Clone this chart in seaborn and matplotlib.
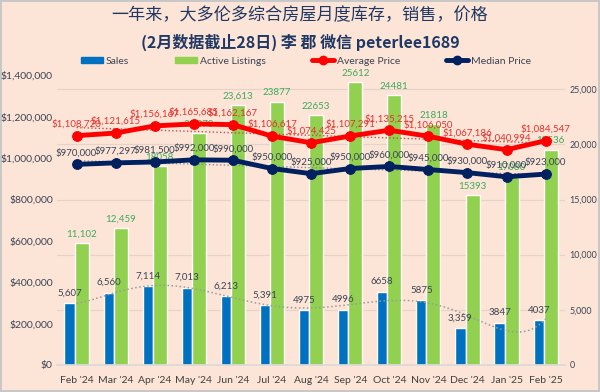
import numpy as np
import seaborn as sns
import matplotlib.pyplot as plt
from matplotlib.patches import Patch
from matplotlib.lines import Line2D

# data
months = ["Feb '24", "Mar '24", "Apr '24", "May '24", "Jun '24", "Jul '24", "Aug '24",
          "Sep '24", "Oct '24", "Nov '24", "Dec '24", "Jan '25", "Feb '25"]
sales = [5607, 6560, 7114, 7013, 6213, 5391, 4975, 4996, 6658, 5875, 3359, 3847, 4037]
active = [11102, 12459, 18058, 21070, 23613, 23877, 22653, 25612, 24481, 21818, 15393, 17080, 19536]
avg_price = [1108720, 1121615, 1156167, 1165685, 1162167, 1106617, 1074425,
             1107291, 1135215, 1106050, 1067186, 1040994, 1084547]
median_price = [970000, 977297, 981500, 992000, 990000, 950000, 925000,
                950000, 960000, 945000, 930000, 910000, 923000]
sales_labels = ['5,607', '6,560', '7,114', '7,013', '6,213', '5,391', '4975', '4996',
                '6658', '5875', '3,359', '3847', '4037']
active_labels = ['11,102', '12,459', '18058', '21,070', '23,613', '23877', '22653',
                 '25612', '24481', '21818', '15393', '17080', '19536']

title1 = "一年来，大多伦多综合房屋月度库存，销售，价格"
title2 = "(2月数据截止28日) 李 郡 微信 peterlee1689"

BG = '#FCE4D6'
BLUE = '#0070C0'
GREEN = '#92D050'
RED = '#FF0000'
NAVY = '#002060'
TXT = '#3B4456'

sns.set_theme(style="white")
plt.rcParams['font.family'] = ['Lato', 'Noto Sans CJK SC', 'DejaVu Sans']

x = np.arange(len(months))

fig = plt.figure(figsize=(6, 3.92), dpi=100, facecolor=BG)
fig.patch.set_edgecolor('#C8C8C8')
fig.patch.set_linewidth(1.5)
ax = fig.add_axes([0.095, 0.069, 0.847, 0.844])
ax.set_facecolor(BG)
ax2 = ax.twinx()

# bars (counts) on the axis drawn first, ticks on the right
ax.bar(x - 0.18, sales, width=0.26, color=BLUE, zorder=2)
ax.bar(x + 0.13, active, width=0.36, color=GREEN, zorder=2)
ax.set_ylim(0, 30000)
ax.set_xlim(-0.5, len(months) - 0.5)
ax.set_yticks([0, 5000, 10000, 15000, 20000, 25000])
ax.set_yticklabels(['0', '5,000', '10,000', '15,000', '20,000', '25,000'])
ax.yaxis.grid(True, color='#E3D3C8', linewidth=0.8, zorder=0)
ax.set_xticks(x)
ax.set_xticklabels(months)
ax.tick_params(axis='x', length=0, labelsize=7.5, colors='#404040', pad=8)
for s in ['top', 'left', 'right']:
    ax.spines[s].set_visible(False)
ax.spines['bottom'].set_color('#D9D9D9')

# sales trend (polynomial)
xs = np.linspace(0, len(months) - 1, 200)
coef = np.polyfit(x, sales, 6)
ax.plot(xs, np.polyval(coef, xs), color='#9A9A9A', linestyle=':', linewidth=1.1, zorder=3)

for i in x:
    ax.annotate(sales_labels[i], (i - 0.18, sales[i]), xytext=(0, 4), textcoords='offset points',
                ha='center', va='bottom', fontsize=7, color=TXT, zorder=4)
    ax.annotate(active_labels[i], (i + 0.13, active[i]), xytext=(0, 3), textcoords='offset points',
                ha='center', va='bottom', fontsize=7, color='#3EAA5C', zorder=4)

# prices on twin axis, ticks on the left
ax2.set_ylim(0, 1600000)
ax2.set_yticks(np.arange(0, 1400001, 200000))
ax2.set_yticklabels([f"${v:,}" for v in range(0, 1400001, 200000)])
for s in ax2.spines.values():
    s.set_visible(False)

for vals, c in [(avg_price, '#C0504D'), (median_price, '#8C8C8C')]:
    cf = np.polyfit(x, vals, 1)
    ax2.plot(xs, np.polyval(cf, xs), color=c, linestyle=':', linewidth=1.0, zorder=2)

sns.lineplot(x=x, y=avg_price, ax=ax2, color=RED, linewidth=3.5, marker='o',
             markersize=7, markeredgecolor=RED, zorder=3)
sns.lineplot(x=x, y=median_price, ax=ax2, color=NAVY, linewidth=3.5, marker='o',
             markersize=7, markeredgecolor=NAVY, zorder=3)

for i in x:
    ax2.annotate(f"${avg_price[i]:,}", (i, avg_price[i]), xytext=(0, 5), textcoords='offset points',
                 ha='center', va='bottom', fontsize=7, color='#E5302C', zorder=5)
    ax2.annotate(f"${median_price[i]:,}", (i, median_price[i]), xytext=(0, 5), textcoords='offset points',
                 ha='center', va='bottom', fontsize=7, color=TXT, zorder=5)
ax2.set_xlim(-0.5, len(months) - 0.5)

# put count ticks right, price ticks left (after twinx)
ax.yaxis.tick_right()
ax.tick_params(axis='y', length=0, labelsize=6.4, colors=TXT, pad=3)
ax2.yaxis.tick_left()
ax2.tick_params(axis='y', length=0, labelsize=7.5, colors=TXT, pad=3)

# titles
fig.text(0.5, 0.962, title1, ha='center', va='center', fontsize=12.3,
         color='#1F3864', family=['Noto Sans CJK SC', 'DejaVu Sans'])
fig.text(0.5, 0.893, title2, ha='center', va='center', fontsize=11.5, fontweight='bold',
         color='#1F3864', family=['Noto Sans CJK SC', 'DejaVu Sans'])

handles = [Patch(color=BLUE), Patch(color=GREEN),
           Line2D([0], [0], color=RED, linewidth=3.5, marker='o', markersize=6),
           Line2D([0], [0], color=NAVY, linewidth=3.5, marker='o', markersize=6)]
fig.legend(handles, ['Sales', 'Active Listings', 'Average Price', 'Median Price'],
           loc='center', bbox_to_anchor=(0.51, 1 - 61 / 392), ncol=4, frameon=False,
           fontsize=7.5, labelcolor=TXT, handlelength=2.1, handleheight=0.5,
           columnspacing=4.4, handletextpad=0.3)

fig.savefig('out.png', dpi=100, facecolor=BG, edgecolor=fig.patch.get_edgecolor())
